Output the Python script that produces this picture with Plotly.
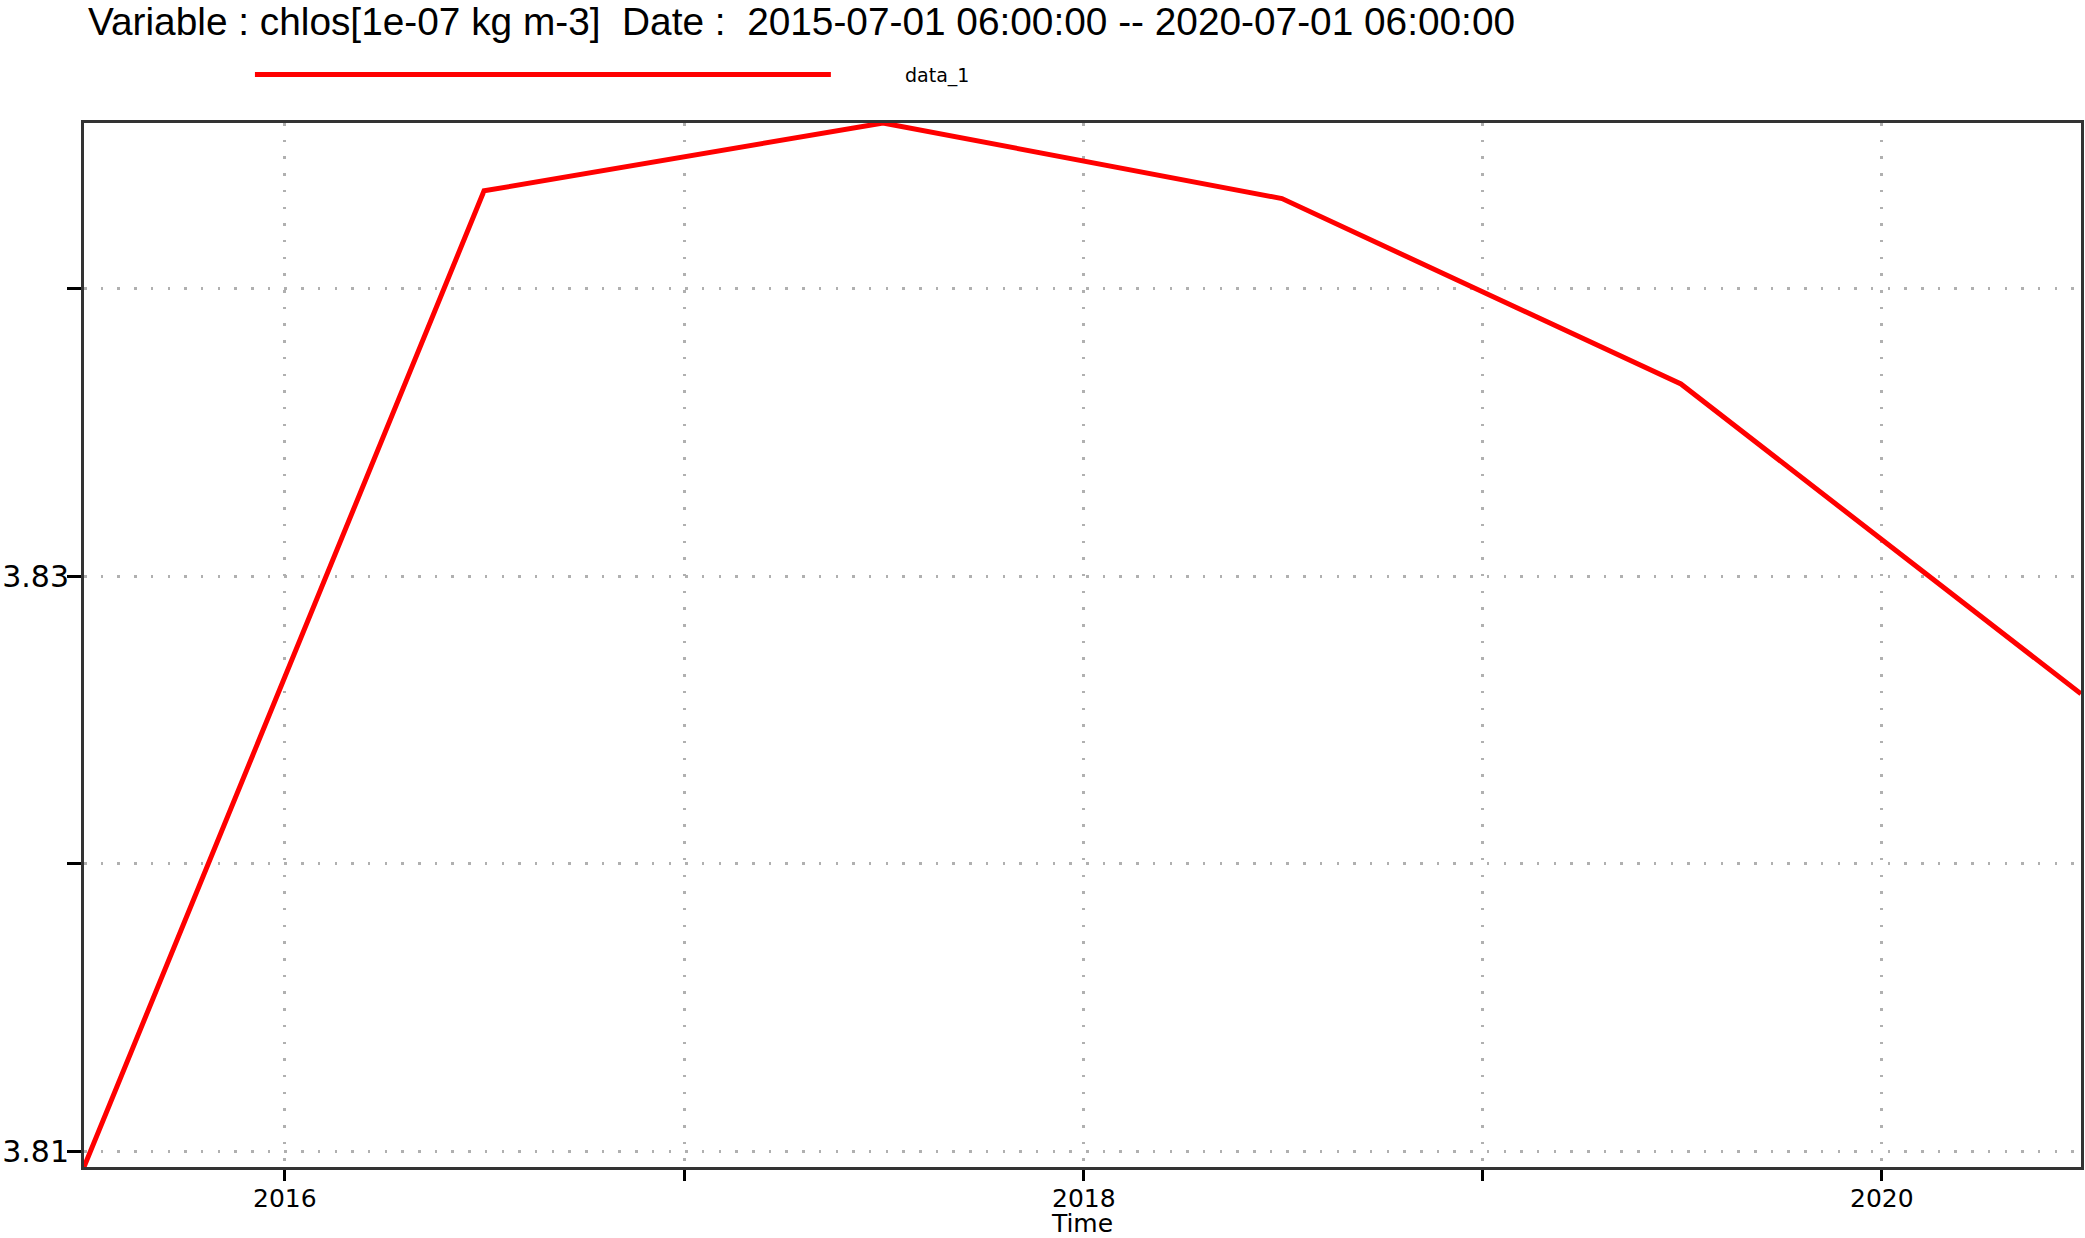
import plotly.graph_objects as go

# ---- data ----
dates = ["2015-07-01 06:00:00", "2016-07-01 06:00:00", "2017-07-01 06:00:00",
         "2018-07-01 06:00:00", "2019-07-01 06:00:00", "2020-07-01 06:00:00"]
chlos = [3.80945, 3.84341, 3.84577, 3.84314, 3.83669, 3.82591]
series_name = "data_1"

x_tickvals = ["2016-01-01", "2017-01-01", "2018-01-01", "2019-01-01", "2020-01-01"]
x_ticktext = ["2016", "", "2018", "", "2020"]
y_tickvals = [3.81, 3.82, 3.83, 3.84]
y_ticktext = ["3.81", "", "3.83", ""]

title_text = "Variable : chlos[1e-07 kg m-3]  Date :  2015-07-01 06:00:00 -- 2020-07-01 06:00:00"
x_title = "Time"

# ---- style ----
LINE_COLOR = "#ff0000"
AXIS_COLOR = "#333333"
GRID_COLOR = "#b0b0b0"
TICK_FONT = "DejaVu Sans"

fig = go.Figure()
fig.add_trace(go.Scatter(x=dates, y=chlos, mode="lines", name=series_name,
                         line=dict(color=LINE_COLOR, width=5), showlegend=False))

axis_common = dict(
    showline=True, linecolor=AXIS_COLOR, linewidth=3, mirror=True,
    showgrid=True, gridcolor=GRID_COLOR, gridwidth=2.5, griddash="2.5px,14.2px",
    ticks="outside", tickcolor="black", tickwidth=3, zeroline=False,
    automargin=False,
)

fig.update_xaxes(
    **axis_common,
    type="date",
    range=[dates[0], dates[-1]],
    tickmode="array", tickvals=x_tickvals, ticktext=x_ticktext,
    ticklen=11,
    tickfont=dict(family=TICK_FONT, size=25, color="black"),
    ticklabelstandoff=-4,
    title=dict(text=x_title, font=dict(family=TICK_FONT, size=25, color="black"), standoff=10),
)
fig.update_yaxes(
    **axis_common,
    range=[min(chlos), max(chlos)],
    tickmode="array", tickvals=y_tickvals, ticktext=y_ticktext,
    ticklen=14,
    tickfont=dict(family=TICK_FONT, size=30, color="black"),
    ticklabelstandoff=-8,
)

# legend drawn as a long sample line + label, as in the reference
fig.add_shape(type="line", xref="paper", yref="paper",
              x0=0.0856, x1=0.3740, y0=1.0464, y1=1.0464,
              line=dict(color=LINE_COLOR, width=5))
fig.add_annotation(text=series_name, xref="paper", yref="paper",
                   x=0.4100, y=1.0455, xanchor="left", yanchor="middle",
                   showarrow=False, font=dict(family=TICK_FONT, size=19, color="black"))

fig.add_annotation(text=title_text, xref="paper", yref="paper",
                   x=0.001, y=1.0975, xanchor="left", yanchor="middle",
                   showarrow=False, font=dict(family="Liberation Sans", size=38.8, color="black"))

fig.update_layout(
    width=2085, height=1238,
    margin=dict(l=84, r=3.5, t=122.5, b=70.5, pad=0),
    plot_bgcolor="white", paper_bgcolor="white",
    showlegend=False,
)

fig.write_html(
    "out.html",
    config={"displayModeBar": False},
    post_script="document.body.style.margin='0';document.body.style.overflow='hidden';",
)
